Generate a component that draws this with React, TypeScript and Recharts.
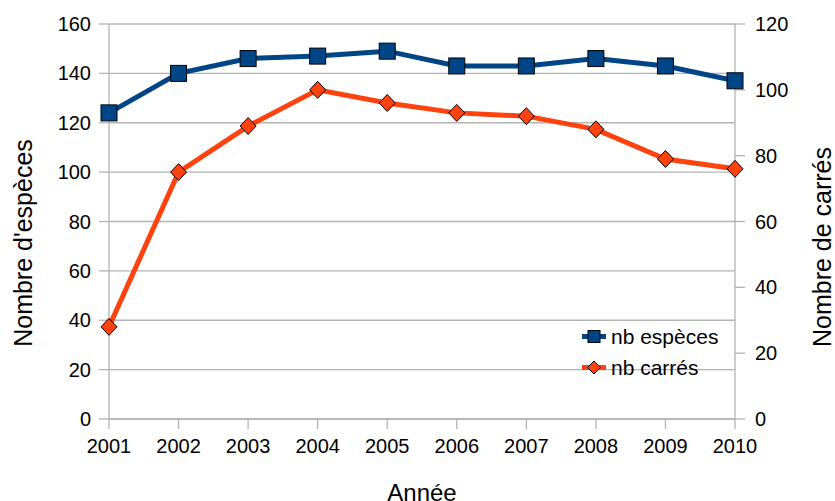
import { CartesianGrid, Label, Line, LineChart, XAxis, YAxis } from "recharts";

const years = ["2001", "2002", "2003", "2004", "2005", "2006", "2007", "2008", "2009", "2010"];
const nbEspeces = [124, 140, 146, 147, 149, 143, 143, 146, 143, 137];
const nbCarres = [28, 75, 89, 100, 96, 93, 92, 88, 79, 76];
const leftTicks = [0, 20, 40, 60, 80, 100, 120, 140, 160];
const rightTicks = [0, 20, 40, 60, 80, 100, 120];

const BLUE = "#004586";
const ORANGE = "#ff420e";
const GRID = "#b3b3b3";
const FONT = "'Liberation Sans', Arial, sans-serif";

const rows = years.map((year, i) => ({ year, especes: nbEspeces[i], carres: nbCarres[i] }));

function SquareDot(props: any) {
  const { cx, cy, index } = props;
  if (cx == null || cy == null) return null;
  return (
    <rect
      key={`sq-${index}`}
      x={cx - 8}
      y={cy - 8}
      width={16}
      height={16}
      fill={BLUE}
      stroke="#000"
      strokeWidth={1}
    />
  );
}

function DiamondDot(props: any) {
  const { cx, cy, index } = props;
  if (cx == null || cy == null) return null;
  return (
    <path
      key={`dm-${index}`}
      d={`M${cx},${cy - 8.5} L${cx + 8},${cy} L${cx},${cy + 8.5} L${cx - 8},${cy} Z`}
      fill={ORANGE}
      stroke="#000"
      strokeWidth={1}
    />
  );
}

function LegendBox() {
  const item = (label: string, color: string, square: boolean) => (
    <div style={{ display: "flex", alignItems: "center", height: 31 }}>
      <svg width={26} height={20} style={{ marginRight: 4 }}>
        <rect x={1} y={7} width={24} height={5} fill={color} />
        {square ? (
          <rect x={7} y={3.5} width={12} height={12} fill={color} stroke="#000" strokeWidth={1} />
        ) : (
          <path d="M13,3 L19.5,9.5 L13,16 L6.5,9.5 Z" fill={color} stroke="#000" strokeWidth={1} />
        )}
      </svg>
      <span>{label}</span>
    </div>
  );
  return (
    <div
      style={{
        position: "absolute",
        left: 581,
        top: 321,
        fontFamily: FONT,
        fontSize: 21,
        color: "#000",
        lineHeight: 1,
      }}
    >
      {item("nb espèces", BLUE, true)}
      {item("nb carrés", ORANGE, false)}
    </div>
  );
}

function VerticalTitle({ x, y, text }: { x: number; y: number; text: string }) {
  return (
    <text
      x={x}
      y={y}
      transform={`rotate(-90 ${x} ${y})`}
      textAnchor="middle"
      dominantBaseline="central"
      fontSize={25}
      fontFamily={FONT}
      fill="#000"
    >
      {text}
    </text>
  );
}

export default function App() {
  const tickStyle = { fill: "#000", fontSize: 20, fontFamily: FONT };
  return (
    <div
      style={{
        position: "absolute",
        top: 0,
        left: 0,
        width: 835,
        height: 501,
        background: "#fff",
        overflow: "hidden",
      }}
    >
      <LineChart width={835} height={501} data={rows} margin={{ top: 24, right: 40, bottom: 42, left: 49 }}>
        <CartesianGrid yAxisId="left" vertical={false} stroke={GRID} strokeWidth={1.3} />
        <XAxis
          dataKey="year"
          height={40}
          tickSize={10}
          tickMargin={10}
          tick={tickStyle}
          axisLine={{ stroke: GRID, strokeWidth: 1.3 }}
          tickLine={{ stroke: GRID, strokeWidth: 1.3 }}
          interval={0}
        >
          <Label
            content={(p: any) => (
              <text
                x={p.viewBox.x + p.viewBox.width / 2}
                y={p.viewBox.y + 73}
                textAnchor="middle"
                dominantBaseline="central"
                fontSize={24}
                fontFamily={FONT}
                fill="#000"
              >
                Année
              </text>
            )}
          />
        </XAxis>
        <YAxis
          yAxisId="left"
          width={60}
          domain={[0, 160]}
          ticks={leftTicks}
          tickSize={10}
          tickMargin={8}
          tick={tickStyle}
          axisLine={{ stroke: GRID, strokeWidth: 1.3 }}
          tickLine={{ stroke: GRID, strokeWidth: 1.3 }}
        >
          <Label content={() => <VerticalTitle x={23} y={243} text="Nombre d'espèces" />} />
        </YAxis>
        <YAxis
          yAxisId="right"
          orientation="right"
          width={60}
          domain={[0, 120]}
          ticks={rightTicks}
          tickSize={10}
          tickMargin={10}
          tick={tickStyle}
          axisLine={{ stroke: GRID, strokeWidth: 1.3 }}
          tickLine={{ stroke: GRID, strokeWidth: 1.3 }}
        >
          <Label content={() => <VerticalTitle x={822} y={247} text="Nombre de carrés" />} />
        </YAxis>
        <Line
          yAxisId="left"
          dataKey="especes"
          name="nb espèces"
          stroke={BLUE}
          strokeWidth={5}
          dot={SquareDot}
          activeDot={false}
          isAnimationActive={false}
        />
        <Line
          yAxisId="right"
          dataKey="carres"
          name="nb carrés"
          stroke={ORANGE}
          strokeWidth={5}
          dot={DiamondDot}
          activeDot={false}
          isAnimationActive={false}
        />
      </LineChart>
      <LegendBox />
    </div>
  );
}
